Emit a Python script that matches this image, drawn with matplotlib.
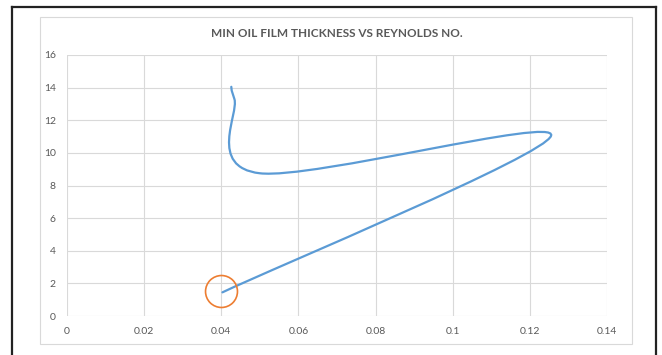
import numpy as np
import matplotlib
matplotlib.use('Agg')
import matplotlib.pyplot as plt
from matplotlib.path import Path
from matplotlib.patches import PathPatch, Rectangle
from matplotlib.lines import Line2D

# Reynolds number vs minimum oil film thickness
reynolds = [0.0426, 0.0434, 0.0500, 0.1255, 0.0403]
film_thickness = [14.05, 13.3, 8.75, 11.05, 1.45]

# point marked with a ring
mark_x, mark_y = 0.0400, 1.55

x_ticks = [0, 0.02, 0.04, 0.06, 0.08, 0.1, 0.12, 0.14]
x_labels = ['0', '0.02', '0.04', '0.06', '0.08', '0.1', '0.12', '0.14']
y_ticks = [0, 2, 4, 6, 8, 10, 12, 14, 16]

plt.rcParams['font.family'] = ['Lato', 'DejaVu Sans']

fig = plt.figure(figsize=(6.62, 3.55), dpi=100)
ax = fig.add_axes([67/662, 1 - 316/355, 540/662, 261/355])


def smooth_path(xs, ys):
    # spreadsheet-style smoothed line: cubic Bezier through every point
    pts = np.column_stack([xs, ys])
    n = len(pts)
    verts = [pts[0]]
    codes = [Path.MOVETO]
    for i in range(n - 1):
        p_prev = pts[i - 1] if i > 0 else pts[i]
        p_next2 = pts[i + 2] if i + 2 < n else pts[i + 1]
        c1 = pts[i] + (pts[i + 1] - p_prev) / 6
        c2 = pts[i + 1] - (p_next2 - pts[i]) / 6
        verts += [c1, c2, pts[i + 1]]
        codes += [Path.CURVE4] * 3
    return Path(verts, codes)


ax.add_patch(PathPatch(smooth_path(reynolds, film_thickness), fc='none',
                       ec='#5B9BD5', lw=1.6, capstyle='round', zorder=3))
ax.plot([mark_x], [mark_y], 'o', ms=23, mfc='none', mec='#ED7D31', mew=1.2,
        zorder=4)

ax.set_xlim(0, 0.14)
ax.set_ylim(0, 16)
ax.set_xticks(x_ticks)
ax.set_xticklabels(x_labels)
ax.set_yticks(y_ticks)
ax.grid(True, color='#d9d9d9', lw=0.8)
ax.set_axisbelow(True)
for s in ax.spines.values():
    s.set_visible(False)
ax.tick_params(length=0, labelsize=7.5, labelcolor='#595959', pad=8)
ax.tick_params(axis='x', pad=8)

ax.set_title('MIN OIL FILM THICKNESS VS REYNOLDS NO.', fontsize=8.5,
             fontweight='bold', color='#595959', pad=13)

# chart area frame and outer black border
fig.patches.append(Rectangle((40/662, 1 - 344/355), 592/662, 327/355,
                             transform=fig.transFigure, fill=False,
                             ec='#d9d9d9', lw=0.8))
for xs, ys in [([12/662, 12/662], [0, 1 - 7/355]),
               ([12/662, 656/662], [1 - 7/355, 1 - 7/355]),
               ([656/662, 656/662], [1 - 7/355, 0])]:
    fig.lines.append(Line2D(xs, ys, transform=fig.transFigure,
                            color='#222222', lw=1.6))

fig.savefig('out.png', dpi=100)
